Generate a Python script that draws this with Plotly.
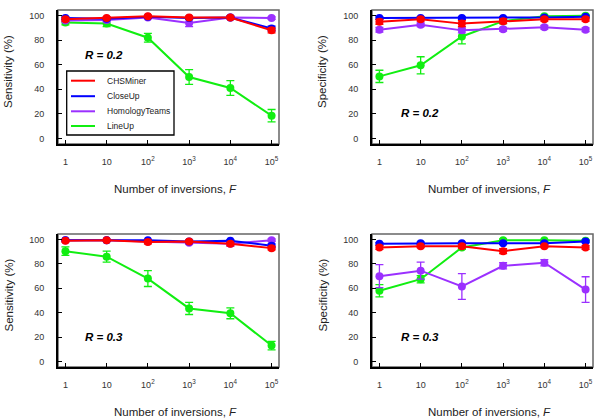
import plotly.graph_objects as go

# ---------------- data ----------------
x_labels = ["1", "10", "10<sup>2</sup>", "10<sup>3</sup>", "10<sup>4</sup>", "10<sup>5</sup>"]
x_pos = [0, 1, 2, 3, 4, 5]
series_names = ["CHSMiner", "CloseUp", "HomologyTeams", "LineUp"]
series_colors = ["#ff0000", "#0000ff", "#9b30ff", "#11ee11"]

# Sensitivity, R = 0.2
sens02_chs = [97, 98, 99.5, 98.5, 98.5, 88]
sens02_close = [98, 97.5, 99, 98, 98.5, 89.5]
sens02_homo = [96, 96.5, 98.5, 94, 98.5, 98]
sens02_line = [94.5, 93.5, 82, 50, 41, 18.5]
sens02_chs_err = [1.5, 1, 1, 1, 1, 2]
sens02_close_err = [1, 1, 1, 1, 1, 2]
sens02_homo_err = [1, 1.5, 1, 3, 1, 1]
sens02_line_err = [2, 2.5, 3.5, 6, 6, 5]

# Specificity, R = 0.2
spec02_chs = [95, 97, 93.5, 95.5, 97, 97]
spec02_close = [98, 98, 98, 98, 98.5, 99]
spec02_homo = [88.5, 92.5, 88, 89, 90.5, 88.5]
spec02_line = [50.5, 59.5, 83, 95.5, 99.5, 100]
spec02_chs_err = [2, 1.5, 2.5, 2, 1.5, 1.5]
spec02_close_err = [1, 1, 1, 1, 1, 1]
spec02_homo_err = [2, 1.5, 2, 1.5, 1.5, 1.5]
spec02_line_err = [5, 7, 6, 2, 1, 1]

# Sensitivity, R = 0.3
sens03_chs = [99, 99.5, 98, 98.5, 96.5, 93]
sens03_close = [99.5, 99.5, 99.5, 98.5, 99, 95]
sens03_homo = [99.5, 99.5, 98.5, 97.5, 96.5, 99.5]
sens03_line = [90.5, 86, 68, 43.5, 39.5, 13]
sens03_chs_err = [1, 0.5, 1.5, 1, 1.5, 1.5]
sens03_close_err = [0.5, 0.5, 0.5, 1, 1, 1.5]
sens03_homo_err = [0.5, 0.5, 1, 1.5, 2, 1]
sens03_line_err = [3.5, 4.5, 6.5, 5, 4.5, 3.5]

# Specificity, R = 0.3
spec03_chs = [93.5, 94.5, 94.5, 90.5, 94.5, 93.5]
spec03_close = [96.5, 97, 97, 97, 97, 98.5]
spec03_homo = [70, 74.5, 61.5, 78.5, 81, 59]
spec03_line = [58, 67.5, 93.5, 99.5, 99.5, 99]
spec03_chs_err = [1.5, 1, 1.5, 2, 1, 1.5]
spec03_close_err = [1, 1, 1, 1, 1, 1]
spec03_homo_err = [9.5, 7, 10.5, 2.5, 2.5, 10.5]
spec03_line_err = [5, 3, 1.5, 1, 0.5, 0.5]

y_ticks = [0, 20, 40, 60, 80, 100]
y_titles = ["Sensitivity (%)", "Specificity (%)", "Sensitivity (%)", "Specificity (%)"]
r_labels = ["R = 0.2", "R = 0.2", "R = 0.3", "R = 0.3"]

panels = [
    ([sens02_chs, sens02_close, sens02_homo, sens02_line],
     [sens02_chs_err, sens02_close_err, sens02_homo_err, sens02_line_err]),
    ([spec02_chs, spec02_close, spec02_homo, spec02_line],
     [spec02_chs_err, spec02_close_err, spec02_homo_err, spec02_line_err]),
    ([sens03_chs, sens03_close, sens03_homo, sens03_line],
     [sens03_chs_err, sens03_close_err, sens03_homo_err, sens03_line_err]),
    ([spec03_chs, spec03_close, spec03_homo, spec03_line],
     [spec03_chs_err, spec03_close_err, spec03_homo_err, spec03_line_err]),
]

# ---------------- layout geometry (window pixels) ----------------
W, H = 600, 419


def px(x):
    return x / W


def py(y):
    return 1 - y / H


boxes = [(58, 279, 10, 144), (372, 593, 10, 144), (58, 279, 234, 367), (372, 593, 234, 367)]
FONT = "Liberation Sans, Arial, Helvetica, sans-serif"

fig = go.Figure()
for i, (vals, errs) in enumerate(panels):
    ax = "" if i == 0 else str(i + 1)
    for k in reversed(range(4)):
        fig.add_trace(go.Scatter(
            x=x_pos, y=vals[k], mode="lines+markers",
            name=series_names[k], showlegend=False,
            line=dict(color=series_colors[k], width=2),
            marker=dict(color=series_colors[k], size=8),
            error_y=dict(type="data", array=errs[k], color=series_colors[k],
                         thickness=1.3, width=4),
            xaxis="x" + ax, yaxis="y" + ax, cliponaxis=False,
        ))

layout = dict(
    width=W, height=H, margin=dict(l=0, r=0, t=0, b=0),
    paper_bgcolor="white", plot_bgcolor="white",
    font=dict(family=FONT, color="#222"), showlegend=False,
)
shapes = []
annotations = []
for i, (x0, x1, y0, y1) in enumerate(boxes):
    ax = "" if i == 0 else str(i + 1)
    layout["xaxis" + ax] = dict(
        domain=[px(x0), px(x1)], range=[-0.18, 5.18], tickmode="array", tickvals=x_pos,
        ticktext=x_labels, ticks="inside", ticklen=4, tickcolor="black",
        showline=True, linecolor="black", linewidth=2, showgrid=False,
        zeroline=False, tickfont=dict(size=9, color="#333"),
        ticklabelstandoff=8, anchor="y" + ax,
    )
    layout["yaxis" + ax] = dict(
        domain=[py(y1), py(y0)], range=[-4.6, 104.6], tickmode="array", tickvals=y_ticks,
        ticks="inside", ticklen=4, tickcolor="black",
        showline=True, linecolor="black", linewidth=2, showgrid=False,
        zeroline=False, tickfont=dict(size=9, color="#333"),
        ticklabelstandoff=10, anchor="x" + ax,
    )
    shapes.append(dict(type="rect", xref="x" + ax + " domain", yref="y" + ax + " domain",
                       x0=0, x1=1, y0=0, y1=1, line=dict(color="#666", width=1.5),
                       layer="below"))
    # axis titles
    annotations.append(dict(text="Number of inversions, <i>F</i>", xref="paper", yref="paper",
                            x=px((x0 + x1) / 2 + 7), y=py(y1 + 45),
                            showarrow=False, font=dict(size=11.5, color="#222"),
                            xanchor="center", yanchor="middle"))
    annotations.append(dict(text=y_titles[i], xref="paper", yref="paper",
                            x=px(x0 - 50), y=py((y0 + y1) / 2 - 5), textangle=-90,
                            showarrow=False, font=dict(size=11.5, color="#222"),
                            xanchor="center", yanchor="middle"))

# R labels
r_pos = [(104, 55), (420, 113), (104, 337), (420, 337)]
for (rx, ry), lab in zip(r_pos, r_labels):
    annotations.append(dict(text="<b><i>" + lab + "</i></b>", xref="paper", yref="paper",
                            x=px(rx), y=py(ry), showarrow=False,
                            font=dict(size=11.5, color="black"),
                            xanchor="center", yanchor="middle"))

# manual legend in top-left panel
lg_x0, lg_x1, lg_y0, lg_y1 = 66.7, 174, 71, 135
shapes.append(dict(type="rect", xref="paper", yref="paper",
                   x0=px(lg_x0), x1=px(lg_x1), y0=py(lg_y1), y1=py(lg_y0),
                   line=dict(color="black", width=1.3), fillcolor="white", layer="above"))
rows = [80.7, 96.2, 111.3, 126]
for name, col, ry in zip(series_names, series_colors, rows):
    shapes.append(dict(type="line", xref="paper", yref="paper",
                       x0=px(71), x1=px(95), y0=py(ry), y1=py(ry),
                       line=dict(color=col, width=2), layer="above"))
    annotations.append(dict(text=name, xref="paper", yref="paper", x=px(105), y=py(ry),
                            showarrow=False, xanchor="left", yanchor="middle",
                            font=dict(size=8.5, color="#222")))

layout["shapes"] = shapes
layout["annotations"] = annotations
fig.update_layout(**layout)
fig.write_html("out.html", config={"displayModeBar": False},
               post_script="document.body.style.margin='0px';")
